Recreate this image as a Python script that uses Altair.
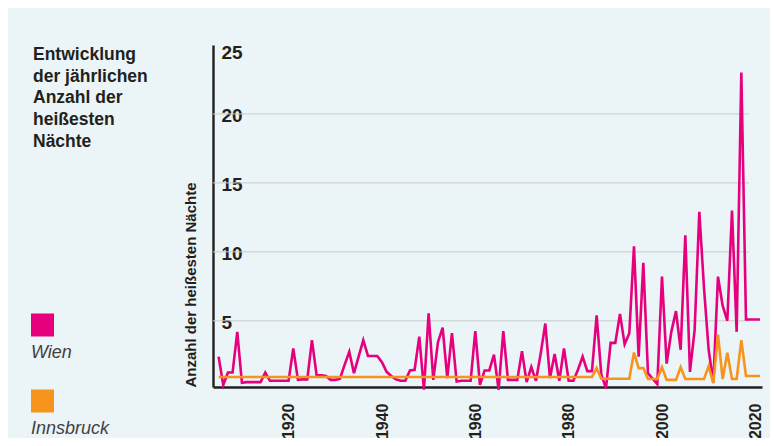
import altair as alt
import pandas as pd

# ---------------- data ----------------
years = list(range(1904, 2021))

wien = [
    2.4, 0.35, 1.25, 1.25, 4.2, 0.5, 0.55, 0.55, 0.55, 0.55,      # 1904-1913
    1.25, 0.65, 0.65, 0.65, 0.65, 0.65, 3.0, 0.72, 0.75, 0.75,    # 1914-1923
    3.6, 1.05, 1.05, 1.0, 0.72, 0.72, 0.8, 1.8, 2.75, 1.2,        # 1924-1933
    2.4, 3.6, 2.45, 2.45, 2.45, 2.0, 1.3, 1.0, 0.75, 0.65,        # 1934-1943
    0.65, 1.4, 1.45, 3.85, 0.0, 5.55, 0.72, 3.45, 4.5, 0.85,      # 1944-1953
    4.1, 0.6, 0.65, 0.65, 0.65, 4.25, 0.35, 1.4, 1.4, 2.55,       # 1954-1963
    0.0, 4.25, 0.72, 0.72, 0.72, 2.8, 0.55, 1.65, 0.65, 2.6,      # 1964-1973
    4.8, 0.85, 2.6, 0.65, 3.0, 0.65, 0.65, 1.45, 2.4, 1.35,       # 1974-1983
    1.35, 5.4, 1.1, 0.1, 3.4, 3.4, 5.5, 3.3, 4.1, 10.4,           # 1984-1993
    2.4, 9.2, 1.2, 0.8, 0.4, 8.2, 1.9, 4.2, 5.7, 2.9,             # 1994-2003
    11.2, 1.3, 4.35, 12.9, 7.4, 2.9, 0.5, 8.2, 6.1, 5.0,          # 2004-2013
    13.0, 4.2, 23.0, 5.1, 5.1, 5.1, 5.1,                          # 2014-2020
]

innsbruck = [
    0.93, 0.93, 0.93, 0.93, 0.93, 0.93, 0.93, 0.93, 0.93, 0.93,   # 1904-1913
    0.93, 0.93, 0.93, 0.93, 0.93, 0.93, 0.93, 0.93, 0.93, 0.93,   # 1914-1923
    0.93, 0.93, 0.93, 0.93, 0.93, 0.93, 0.93, 0.93, 0.93, 0.93,   # 1924-1933
    0.93, 0.93, 0.93, 0.93, 0.93, 0.93, 0.93, 0.93, 0.93, 0.93,   # 1934-1943
    0.93, 0.93, 0.93, 0.93, 0.93, 0.93, 0.93, 0.93, 0.93, 0.93,   # 1944-1953
    0.93, 0.93, 0.93, 0.93, 0.93, 0.93, 0.93, 0.93, 0.93, 0.93,   # 1954-1963
    0.93, 0.93, 0.93, 0.93, 0.93, 0.93, 0.93, 0.93, 0.93, 0.93,   # 1964-1973
    0.93, 0.93, 0.93, 0.93, 0.93, 0.93, 0.93, 0.93, 0.93, 0.93,   # 1974-1983
    0.93, 1.57, 0.8, 0.8, 0.8, 0.8, 0.8, 0.8, 0.8, 2.7,           # 1984-1993
    1.57, 1.57, 0.78, 0.78, 0.78, 1.64, 0.72, 0.72, 0.72, 1.64,   # 1994-2003
    0.78, 0.78, 0.78, 0.78, 0.78, 1.7, 0.48, 4.0, 0.78, 2.68,     # 2004-2013
    0.78, 0.78, 3.6, 1.0, 1.0, 1.0, 1.0,                          # 2014-2020
]

series = ["Wien", "Innsbruck"]
colors = ["#e6007e", "#f7941d"]
title_lines = ["Entwicklung", "der jährlichen", "Anzahl der", "heißesten", "Nächte"]
y_title = "Anzahl der heißesten Nächte"
grid_values = [5, 10, 15, 20]
y_ticks = [5, 10, 15, 20, 25]
x_ticks = [1920, 1940, 1960, 1980, 2000, 2020]

assert len(wien) == len(years) and len(innsbruck) == len(years)

df_wien = pd.DataFrame({"Jahr": years, "Anzahl": wien, "Stadt": "Wien"})
df_ibk = pd.DataFrame({"Jahr": years, "Anzahl": innsbruck, "Stadt": "Innsbruck"})
df_grid = pd.DataFrame({"Anzahl": grid_values})
one = pd.DataFrame({"k": [0]})

FONT = "Liberation Sans, Arial, Helvetica, sans-serif"
INK = "#231f20"
W, H = 549, 342

xscale = alt.Scale(domain=[1902.8, 2020.43], nice=False, zero=False)
yscale = alt.Scale(domain=[0.2, 25], nice=False, zero=False)
cscale = alt.Scale(domain=series, range=colors)

x_axis = alt.Axis(
    values=x_ticks, format="d", labelAngle=270, labelFont=FONT, labelFontSize=16,
    labelFontWeight="bold", labelColor=INK, labelPadding=16, labelOffset=-4.5,
    ticks=False, tickSize=0, grid=False, domainColor=INK, domainWidth=2.4, title=None,
)
y_axis = alt.Axis(
    values=y_ticks, labelFont=FONT, labelFontSize=19, labelFontWeight="bold",
    labelColor=INK, labelAlign="left", labelPadding=-8,
    labelFlush=True, labelFlushOffset=3, labelOffset=1.5,
    ticks=False, tickSize=0, grid=False, domainColor=INK, domainWidth=2.4,
    title=y_title, titleFont=FONT, titleFontSize=15, titleFontWeight="bold",
    titleColor=INK, titleAngle=270, titleAlign="left", titleBaseline="alphabetic",
    titleX=-18, titleY=342,
)

grid = alt.Chart(df_grid).mark_rule(color="#c9cccd", strokeWidth=1).encode(
    y=alt.Y("Anzahl:Q", scale=yscale, axis=y_axis),
    x=alt.value(0), x2=alt.value(536),
)


def line_layer(d):
    return alt.Chart(d).mark_line(strokeWidth=2.6).encode(
        x=alt.X("Jahr:Q", scale=xscale, axis=x_axis),
        y=alt.Y("Anzahl:Q", scale=yscale, axis=y_axis),
        color=alt.Color("Stadt:N", scale=cscale, legend=None),
    )


title = alt.Chart(one).mark_text(
    align="left", baseline="alphabetic", font=FONT, fontSize=17.5,
    fontWeight="bold", color=INK, lineHeight=21.7,
).encode(x=alt.value(-180), y=alt.value(15), text=alt.value(title_lines))

legend_layers = []
for i, (name, col) in enumerate(zip(series, colors)):
    legend_layers.append(
        alt.Chart(one).mark_square(size=529, color=col, opacity=1).encode(
            x=alt.value(-170.5), y=alt.value(280 + 76 * i)
        )
    )
    legend_layers.append(
        alt.Chart(one).mark_text(
            align="left", baseline="alphabetic", font=FONT, fontSize=18,
            fontStyle="italic", color="#414042",
        ).encode(x=alt.value(-182), y=alt.value(313 + 75.5 * i), text=alt.value(name))
    )

chart = alt.layer(
    grid, line_layer(df_wien), line_layer(df_ibk), title, *legend_layers
).properties(
    width=W, height=H, background="#ebf4f7",
    padding={"left": 205, "top": 37, "right": 8, "bottom": 51},
    autosize=alt.AutoSizeParams(type="none"),
).configure_view(stroke=None)

chart.save("out.html", embed_options={"renderer": "svg", "actions": False})
